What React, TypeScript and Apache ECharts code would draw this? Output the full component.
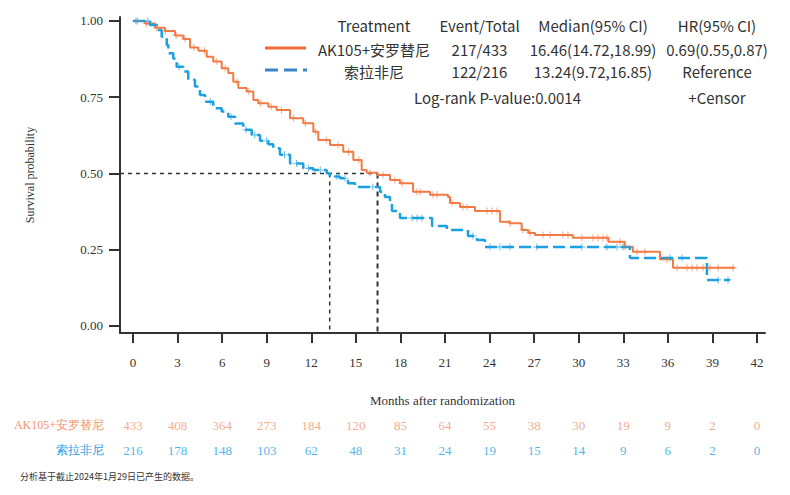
import React, { useEffect, useRef } from "react";
import * as echarts from "echarts";

const ORANGE_T = [0, 0.81, 1.48, 2.15, 2.83, 3.39, 3.84, 4.40, 4.96, 5.40, 5.97, 6.41, 6.75, 7.09, 7.65, 8.10, 8.43, 9.11, 9.67, 10.57, 11.46, 12.14, 12.47, 13.26, 14.15, 14.83, 15.39, 15.73, 16.46, 17.30, 17.97, 18.85, 19.99, 21.20, 21.34, 22.01, 23.02, 24.70, 25.37, 26.16, 26.61, 27.06, 29.6, 32.0, 33.1, 33.65, 35.47, 36.35, 40.5];
const ORANGE_S = [1.0, 0.992, 0.978, 0.967, 0.952, 0.941, 0.913, 0.902, 0.883, 0.867, 0.845, 0.829, 0.801, 0.780, 0.769, 0.741, 0.730, 0.719, 0.708, 0.681, 0.665, 0.637, 0.610, 0.593, 0.571, 0.544, 0.511, 0.502, 0.495, 0.479, 0.468, 0.440, 0.430, 0.423, 0.403, 0.390, 0.377, 0.342, 0.337, 0.315, 0.305, 0.298, 0.289, 0.276, 0.260, 0.243, 0.219, 0.191, 0.191];
const BLUE_T = [0, 1.14, 1.70, 1.93, 2.27, 2.38, 2.71, 2.94, 3.39, 3.72, 4.17, 4.51, 4.85, 5.40, 5.97, 6.41, 6.87, 7.42, 7.99, 8.55, 9.11, 9.44, 9.89, 10.57, 11.46, 12.14, 13.04, 13.24, 13.93, 14.47, 14.94, 16.63, 16.96, 17.30, 17.43, 17.97, 20.13, 21.13, 22.55, 23.15, 23.69, 33.45, 38.63, 40.18];
const BLUE_S = [1.0, 0.987, 0.970, 0.948, 0.921, 0.894, 0.877, 0.850, 0.834, 0.807, 0.785, 0.757, 0.735, 0.714, 0.703, 0.686, 0.664, 0.643, 0.626, 0.607, 0.596, 0.583, 0.561, 0.533, 0.517, 0.511, 0.501, 0.490, 0.484, 0.468, 0.456, 0.440, 0.423, 0.407, 0.377, 0.354, 0.328, 0.315, 0.295, 0.282, 0.259, 0.223, 0.151, 0.151];

const ORANGE_CENSOR = [0.3, 0.9, 1.6, 2.2, 2.9, 3.5, 4.1, 4.8, 5.6, 6.2, 7.0, 7.8, 8.6, 9.3, 10.0, 10.8, 11.6, 12.3, 13.0, 13.8, 14.5, 15.2, 15.95, 16.83, 17.63, 18.11, 19.11, 19.32, 20.19, 20.46, 21.47, 22.21, 22.48, 23.83, 24.16, 24.50, 25.38, 26.25, 26.72, 27.60, 28.07, 28.94, 29.28, 30.22, 30.96, 31.30, 31.63, 31.90, 32.78, 33.12, 33.92, 34.46, 35.94, 36.62, 37.29, 37.63, 37.96, 38.37, 38.84, 39.38, 40.39];
const BLUE_CENSOR = [0.2, 1.0, 3.1, 5.2, 6.6, 7.6, 8.2, 9.0, 10.2, 11.0, 11.8, 12.6, 13.73, 14.27, 16.15, 18.78, 19.12, 19.45, 22.88, 24.03, 24.70, 25.38, 27.19, 30.22, 31.90, 32.58, 32.98, 36.14, 36.95, 39.38, 40.05];

const MEDIAN_ORANGE = 16.46;
const MEDIAN_BLUE = 13.24;

const X_TICKS = [0, 3, 6, 9, 12, 15, 18, 21, 24, 27, 30, 33, 36, 39, 42];
const Y_TICKS = [0, 0.25, 0.5, 0.75, 1.0];
const RISK_TIMES = [0, 3, 6, 9, 12, 15, 18, 21, 24, 27, 30, 33, 36, 39, 42];
const RISK_ORANGE = [433, 408, 364, 273, 184, 120, 85, 64, 55, 38, 30, 19, 9, 2, 0];
const RISK_BLUE = [216, 178, 148, 103, 62, 48, 31, 24, 19, 15, 14, 9, 6, 2, 0];
const GROUPS = ["AK105+安罗替尼", "索拉非尼"];

const HEADER = ["Treatment", "Event/Total", "Median(95% CI)", "HR(95% CI)"];
const ROW_ORANGE = ["AK105+安罗替尼", "217/433", "16.46(14.72,18.99)", "0.69(0.55,0.87)"];
const ROW_BLUE = ["索拉非尼", "122/216", "13.24(9.72,16.85)", "Reference"];
const PVALUE_TEXT = "Log-rank P-value:0.0014";
const CENSOR_TEXT = "+Censor";
const FOOTNOTE = "分析基于截止2024年1月29日已产生的数据。";

const C_ORANGE = "#F27B45";
const C_BLUE = "#1BA1E2";
const C_ORANGE_LEG = "#EE6A3A";
const C_BLUE_LEG = "#3A86C6";
const C_ORANGE_TXT = "#F2946A";
const C_BLUE_TXT = "#1E9FE4";
const C_AXIS = "#333333";
const SERIF = "'Liberation Serif', 'Times New Roman', serif";
const SANS = "'Noto Sans CJK SC', 'Noto Sans', sans-serif";

const X_MIN = -0.875;
const X_MAX = 42.54;
const Y_MIN = -0.023;
const Y_MAX = 1.013;

function survAt(ts: number[], ss: number[], t: number) {
  let s = ss[0];
  for (let i = 0; i < ts.length; i++) {
    if (ts[i] <= t) s = ss[i];
  }
  return s;
}

const PLUS = "path://M-0.12,-1H0.12V-0.12H1V0.12H0.12V1H-0.12V0.12H-1V-0.12H-0.12Z";

export default function App() {
  const ref = useRef<HTMLDivElement>(null);
  useEffect(() => {
    if (!ref.current) return;
    const chart = echarts.init(ref.current, null, { renderer: "svg" });
    const orangeLine = ORANGE_T.map((t, i) => [t, ORANGE_S[i]]);
    const blueLine = BLUE_T.map((t, i) => [t, BLUE_S[i]]);
    const orangeCensor = ORANGE_CENSOR.map((t) => [t, survAt(ORANGE_T, ORANGE_S, t)]);
    const blueCensor = BLUE_CENSOR.map((t) => [t, survAt(BLUE_T, BLUE_S, t)]);

    const colX = [374, 479.5, 593, 717];
    const rowY = [25, 49, 71];
    const texts: any[] = [];
    [HEADER, ROW_ORANGE, ROW_BLUE].forEach((row, r) => {
      row.forEach((s, c) => {
        texts.push({
          type: "text",
          x: colX[c],
          y: rowY[r],
          style: { text: s, fill: "#333", font: `15px ${SANS}`, align: "center", verticalAlign: "middle" },
        });
      });
    });
    texts.push({
      type: "text", x: 497.5, y: 97,
      style: { text: PVALUE_TEXT, fill: "#333", font: `15px ${SANS}`, align: "center", verticalAlign: "middle" },
    });
    texts.push({
      type: "text", x: 717, y: 97,
      style: { text: CENSOR_TEXT, fill: "#333", font: `15px ${SANS}`, align: "center", verticalAlign: "middle" },
    });
    texts.push({
      type: "line", shape: { x1: 265, y1: 48, x2: 306, y2: 48 },
      style: { stroke: C_ORANGE_LEG, lineWidth: 3 },
    });
    texts.push({
      type: "line", shape: { x1: 265, y1: 70, x2: 307, y2: 70 },
      style: { stroke: C_BLUE_LEG, lineWidth: 3, lineDash: [13, 6] },
    });
    texts.push({
      type: "text", x: 20, y: 476,
      style: { text: FOOTNOTE, fill: "#333", font: `9px ${SANS}`, align: "left", verticalAlign: "middle" },
    });

    const option: any = {
      animation: false,
      backgroundColor: "#fff",
      grid: [
        { left: 120, top: 17, width: 645, height: 316 },
        { left: 120, top: 412.5, width: 645, height: 50 },
      ],
      xAxis: [
        {
          gridIndex: 0, type: "value", min: X_MIN, max: X_MAX,
          name: "Months after randomization", nameLocation: "middle", nameGap: 61,
          nameTextStyle: { fontFamily: SERIF, fontSize: 13, color: C_AXIS },
          axisLine: { show: true, onZero: false, lineStyle: { color: C_AXIS, width: 2 } },
          axisTick: { show: true, length: 10, customValues: X_TICKS, lineStyle: { color: C_AXIS, width: 2 } },
          axisLabel: { customValues: X_TICKS, margin: 23, fontFamily: SERIF, fontSize: 13, color: C_AXIS },
          splitLine: { show: false },
        },
        {
          gridIndex: 1, type: "value", min: X_MIN, max: X_MAX, show: false,
        },
      ],
      yAxis: [
        {
          gridIndex: 0, type: "value", min: Y_MIN, max: Y_MAX,
          name: "Survival probability", nameLocation: "middle", nameGap: 84, nameRotate: 90,
          nameTextStyle: { fontFamily: SERIF, fontSize: 12, color: C_AXIS },
          axisLine: { show: true, onZero: false, lineStyle: { color: C_AXIS, width: 2 } },
          axisTick: { show: true, length: 11, customValues: Y_TICKS, lineStyle: { color: C_AXIS, width: 2 } },
          axisLabel: {
            customValues: Y_TICKS, margin: 17, fontFamily: SERIF, fontSize: 13, color: C_AXIS,
            formatter: (v: number) => v.toFixed(2),
          },
          splitLine: { show: false },
        },
        {
          gridIndex: 1, type: "category", data: GROUPS, inverse: true,
          axisLine: { show: false }, axisTick: { show: false }, splitLine: { show: false },
          axisLabel: {
            margin: 16, fontFamily: SERIF, fontSize: 12,
            color: (v: string) => (v === GROUPS[0] ? C_ORANGE_TXT : C_BLUE_TXT),
          },
        },
      ],
      series: [
        {
          type: "line", xAxisIndex: 0, yAxisIndex: 0, data: [[X_MIN, 0.5], [MEDIAN_ORANGE, 0.5]],
          showSymbol: false, silent: true, lineStyle: { color: "#333", width: 1.5, type: [4, 4] }, z: 1,
        },
        {
          type: "line", xAxisIndex: 0, yAxisIndex: 0, data: [[MEDIAN_BLUE, 0.5], [MEDIAN_BLUE, Y_MIN]],
          showSymbol: false, silent: true, lineStyle: { color: "#333", width: 1.5, type: [4, 4] }, z: 1,
        },
        {
          type: "line", xAxisIndex: 0, yAxisIndex: 0, data: [[MEDIAN_ORANGE, 0.5], [MEDIAN_ORANGE, Y_MIN]],
          showSymbol: false, silent: true, lineStyle: { color: "#333", width: 2, type: [5, 4] }, z: 1,
        },
        {
          type: "line", name: GROUPS[0], data: orangeLine, step: "end", showSymbol: false, silent: true,
          lineStyle: { color: C_ORANGE, width: 2 }, z: 3,
        },
        {
          type: "line", name: GROUPS[1], data: blueLine, step: "end", showSymbol: false, silent: true,
          lineStyle: { color: C_BLUE, width: 2.5, type: [12, 5] }, z: 4,
        },
        {
          type: "scatter", data: orangeCensor, symbol: PLUS, symbolSize: 7, silent: true,
          itemStyle: { color: C_ORANGE, opacity: 0.8 }, z: 5,
        },
        {
          type: "scatter", data: blueCensor, symbol: PLUS, symbolSize: 7, silent: true,
          itemStyle: { color: C_BLUE, opacity: 0.8 }, z: 5,
        },
        {
          type: "scatter", xAxisIndex: 1, yAxisIndex: 1, symbolSize: 0, silent: true,
          data: RISK_TIMES.map((t, i) => [t, GROUPS[0], RISK_ORANGE[i]]),
          label: {
            show: true, position: "inside", formatter: (p: any) => String(p.value[2]),
            fontFamily: SERIF, fontSize: 13, color: C_ORANGE_TXT,
          },
        },
        {
          type: "scatter", xAxisIndex: 1, yAxisIndex: 1, symbolSize: 0, silent: true,
          data: RISK_TIMES.map((t, i) => [t, GROUPS[1], RISK_BLUE[i]]),
          label: {
            show: true, position: "inside", formatter: (p: any) => String(p.value[2]),
            fontFamily: SERIF, fontSize: 13, color: C_BLUE_TXT,
          },
        },
      ],
      graphic: texts,
    };
    chart.setOption(option);
    return () => chart.dispose();
  }, []);
  return <div ref={ref} style={{ position: "absolute", left: 0, top: 0, width: 790, height: 495 }} />;
}
